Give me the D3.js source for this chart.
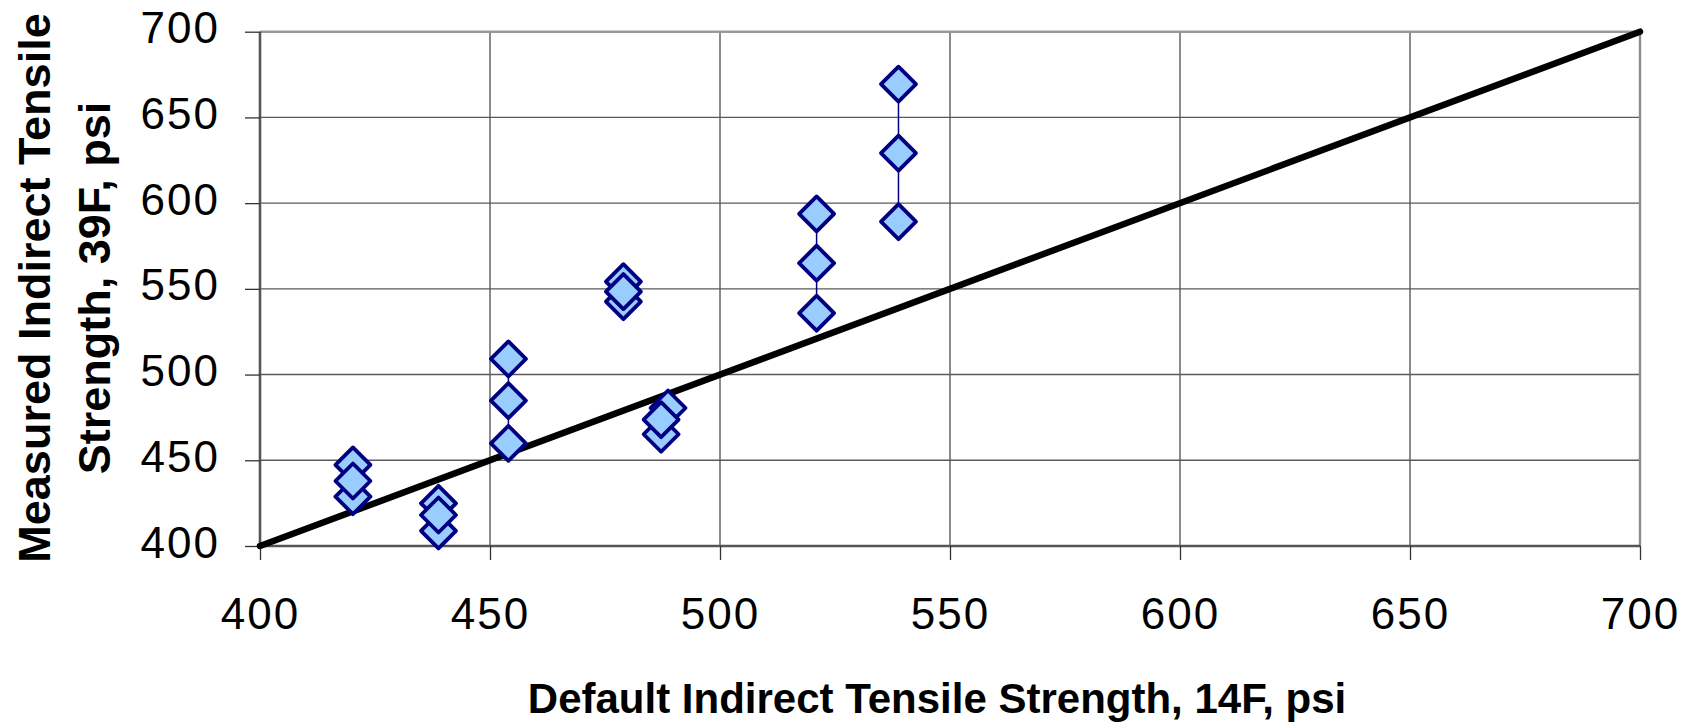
<!DOCTYPE html>
<html>
<head>
<meta charset="utf-8">
<script src="https://cdn.jsdelivr.net/npm/d3@7"></script>
<style>
  html, body { margin: 0; padding: 0; background: #fff; }
  svg { display: block; }
  text { font-family: "Liberation Sans", Arial, sans-serif; fill: #000; }
</style>
</head>
<body>
<svg id="chart" width="1692" height="724"></svg>
<script>
// ---- data ----
const xTicks = [400, 450, 500, 550, 600, 650, 700];
const yTicks = [400, 450, 500, 550, 600, 650, 700];
const xTitle = "Default Indirect Tensile Strength, 14F, psi";
const yTitleLines = ["Measured Indirect Tensile", "Strength, 39F, psi"];

// Each group: default ITS (x) and measured ITS (y), in drawing order
const group1X = [420.2, 420.2, 420.2];
const group1Y = [447.3, 428.8, 437.9];
const group2X = [438.8, 438.8, 438.8];
const group2Y = [424.9, 408.8, 418.1];
const group3X = [454.0, 454.0, 454.0];
const group3Y = [509.1, 484.8, 459.9];
const group4X = [479.0, 479.0, 479.0];
const group4Y = [554.2, 542.5, 548.4];
const group5X = [488.7, 487.2, 487.2];
const group5Y = [480.5, 465.2, 473.7];
const group6X = [521.0, 521.0, 521.0];
const group6Y = [593.7, 565.0, 535.8];
const group7X = [538.8, 538.8, 538.8];
const group7Y = [669.4, 629.2, 589.2];
const equalityLineX = [400, 700];
const equalityLineY = [400, 700];

const groupsX = [group1X, group2X, group3X, group4X, group5X, group6X, group7X];
const groupsY = [group1Y, group2Y, group3Y, group4Y, group5Y, group6Y, group7Y];

// ---- layout ----
const mLeft = 260, mRight = 1640, mTop = 31.7, mBottom = 546;
const svg = d3.select("#chart");
const x = d3.scaleLinear().domain([400, 700]).range([mLeft, mRight]);
const y = d3.scaleLinear().domain([400, 700]).range([mBottom, mTop]);

// gridlines
const grid = svg.append("g");
grid.selectAll("line.h").data(yTicks.slice(1)).enter().append("line")
  .attr("x1", mLeft).attr("x2", mRight)
  .attr("y1", d => y(d)).attr("y2", d => y(d))
  .attr("stroke", "#5a5a5a").attr("stroke-width", 1.4);
grid.selectAll("line.v").data(xTicks.slice(1)).enter().append("line")
  .attr("y1", mTop).attr("y2", mBottom)
  .attr("x1", d => x(d)).attr("x2", d => x(d))
  .attr("stroke", "#5a5a5a").attr("stroke-width", 1.4);

// frame (top and right)
svg.append("line").attr("x1", mLeft).attr("x2", mRight).attr("y1", mTop).attr("y2", mTop)
  .attr("stroke", "#999").attr("stroke-width", 2.4);
svg.append("line").attr("x1", mRight).attr("x2", mRight).attr("y1", mTop).attr("y2", mBottom)
  .attr("stroke", "#8c8c8c").attr("stroke-width", 2.4);

// axes
const xAxis = d3.axisBottom(x).tickValues(xTicks).tickSize(14).tickPadding(0).tickFormat(d3.format("d"));
const yAxis = d3.axisLeft(y).tickValues(yTicks).tickSize(15).tickPadding(0).tickFormat(d3.format("d"));

const gx = svg.append("g").attr("transform", `translate(0,${mBottom})`).call(xAxis);
const gy = svg.append("g").attr("transform", `translate(${mLeft},0)`).call(yAxis);

[gx, gy].forEach(g => {
  g.select(".domain").attr("stroke", "#555").attr("stroke-width", 2.6);
  g.selectAll(".tick line").attr("stroke", "#333").attr("stroke-width", 1.3);
  g.selectAll(".tick text")
    .style("font-family", '"Liberation Sans", Arial, sans-serif')
    .style("font-size", "44px")
    .style("letter-spacing", "2px")
    .attr("fill", "#000");
});
gx.select(".domain").attr("d", `M${mLeft},0H${mRight}`);
gy.select(".domain").attr("d", `M0,${mBottom}V${mTop}`);
gx.selectAll(".tick text").attr("y", 83).attr("dy", null).attr("dominant-baseline", "auto");
gy.selectAll(".tick text").attr("x", -40).attr("dy", null).attr("y", 11)
  .attr("dominant-baseline", "auto").attr("text-anchor", "end");

// equality line
const line = d3.line().x(d => x(d[0])).y(d => y(d[1]));
svg.append("path")
  .datum(equalityLineX.map((v, i) => [v, equalityLineY[i]]))
  .attr("d", line)
  .attr("fill", "none").attr("stroke", "#000").attr("stroke-width", 6.5)
  .attr("stroke-linecap", "round");

// groups: thin connecting lines then diamond markers
const halfDiag = 17.5;
const diamond = d3.symbol().type(d3.symbolDiamond2).size(Math.pow(halfDiag / 0.62625, 2));
groupsX.forEach((gxArr, gi) => {
  const pts = gxArr.map((v, i) => [v, groupsY[gi][i]]);
  const g = svg.append("g");
  g.append("path").datum(pts).attr("d", line)
    .attr("fill", "none").attr("stroke", "#000080").attr("stroke-width", 1.5);
  g.selectAll("path.m").data(pts).enter().append("path")
    .attr("class", "m")
    .attr("d", diamond)
    .attr("transform", d => `translate(${x(d[0])},${y(d[1])})`)
    .attr("fill", "#99CCFF").attr("stroke", "#000080").attr("stroke-width", 3.8)
    .attr("stroke-linejoin", "round");
});

// titles
svg.append("text")
  .attr("x", 937).attr("y", 713)
  .attr("text-anchor", "middle")
  .style("font-size", "42px").style("font-weight", "bold")
  .text(xTitle);

const yt = svg.append("text")
  .attr("transform", "translate(50,288) rotate(-90)")
  .attr("text-anchor", "middle")
  .style("font-size", "45px").style("font-weight", "bold");
yt.append("tspan").attr("x", 0).attr("y", 0).text(yTitleLines[0]);
yt.append("tspan").attr("x", 0).attr("y", 60).text(yTitleLines[1]);
</script>
</body>
</html>
